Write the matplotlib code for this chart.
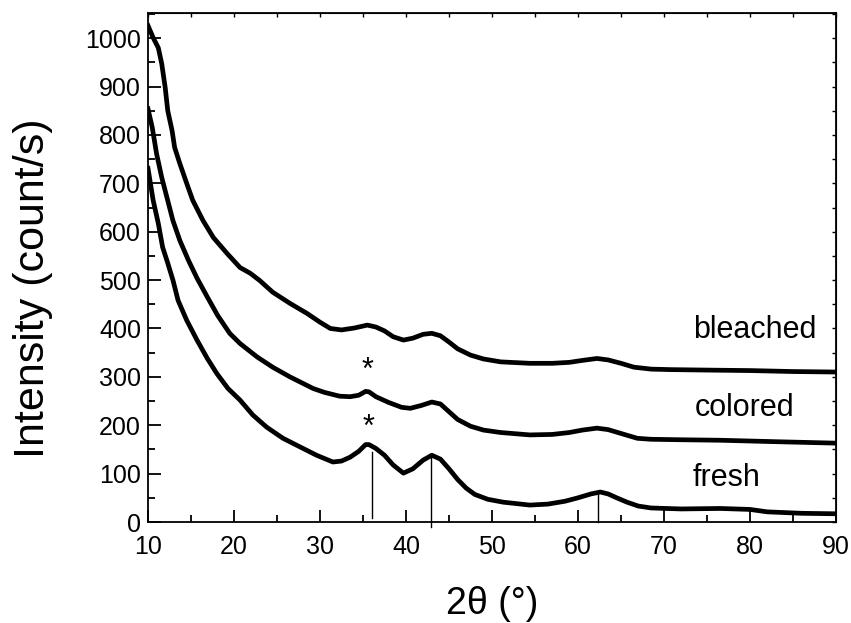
import matplotlib
matplotlib.use('Agg')
import matplotlib.pyplot as plt
from matplotlib.ticker import MultipleLocator

plt.rcParams['font.family'] = ['Liberation Sans', 'DejaVu Sans']

# XRD patterns (2theta in degrees, count/s)
bleached_x = [10, 10.6, 11.2, 11.6, 12, 12.3, 12.8, 13.1, 13.7, 14.5, 15.2, 16.4, 17.6, 19.2,
              20.7, 21.9, 23, 24.5, 26.5, 28.5, 30, 31.2, 32.5, 34, 35.5, 36.5, 37.5, 38.5,
              39.7, 40.8, 42, 43, 44, 45, 46, 47.5, 49, 51, 54.4, 57, 59, 60.5, 62.2, 63.5,
              65, 66.5, 68.5, 70.7, 75, 80, 85, 90]
bleached_y = [1026, 1001, 980, 947, 898, 850, 809, 774, 741, 700, 665, 623, 588, 555,
              526, 514, 499, 475, 452, 431, 413, 400, 397, 401, 407, 403, 395, 383,
              376, 380, 388, 390, 385, 372, 358, 345, 337, 331, 328, 328, 330, 334, 338, 335,
              328, 320, 316, 315, 314, 313, 311, 310]

colored_x = [10, 10.5, 11, 11.6, 12.2, 12.9, 13.7, 14.7, 15.7, 16.9, 18.1, 19.5, 20.7, 22.7,
             24.5, 26.5, 29.2, 30.5, 32.3, 33.5, 34.5, 35.3, 35.7, 36.5, 38, 39.5, 40.5,
             41.8, 43, 44, 45, 46, 47.5, 49, 51, 54.4, 57, 59, 60.5, 62.2, 63.5, 65, 66.9,
             68.5, 72, 76.5, 83, 90]
colored_y = [854, 815, 761, 712, 671, 623, 582, 541, 504, 465, 427, 390, 369, 341,
             320, 300, 276, 268, 260, 259, 262, 270, 269, 259, 247, 237, 235,
             241, 248, 244, 228, 212, 198, 190, 185, 180, 181, 185, 190, 194, 191, 183, 173,
             171, 170, 169, 166, 163]

fresh_x = [10, 10.6, 11.2, 11.7, 12.3, 12.9, 13.5, 14.5, 15.7, 16.9, 18, 19.3, 20.7, 22.2,
           23.8, 25.7, 27.7, 29.6, 31.5, 32.5, 33.5, 34.5, 35.3, 35.7, 36.5, 37.5, 38.5,
           39.7, 40.8, 42, 43, 44, 45, 46, 47, 48, 49.5, 51.3, 54.4, 56.5, 58.5, 60, 61.5,
           62.6, 63.5, 64.5, 65.7, 67, 68.5, 72, 76.5, 80, 82, 86, 90]
fresh_y = [731, 665, 617, 568, 535, 500, 458, 417, 376, 338, 307, 276, 252, 221,
           196, 173, 155, 138, 124, 126, 134, 146, 160, 160, 152, 138, 118,
           101, 110, 128, 138, 130, 110, 88, 70, 57, 47, 41, 35, 37, 43, 50, 58,
           62, 58, 50, 41, 33, 29, 27, 28, 26, 21, 18, 17]

# reference pattern sticks
stick_x = [36.1, 42.9, 62.3]
stick_top = [145, 134, 64]
stick_bottom = [8, -10, 0]

# sample labels and markers
labels = ['bleached', 'colored', 'fresh']
label_x = [80.6, 79.4, 77.3]
label_y = [396, 235, 91]
star_x = [35.5, 35.6]
star_y = [312, 194]

fig = plt.figure(figsize=(8.51, 6.23), dpi=100)
ax = fig.add_axes([0.1739, 0.1621, 0.8085, 0.817])

for xs, ys in [(bleached_x, bleached_y), (colored_x, colored_y), (fresh_x, fresh_y)]:
    ax.plot(xs, ys, color='black', linewidth=3.4, solid_joinstyle='round')

for sx, t, b in zip(stick_x, stick_top, stick_bottom):
    ax.plot([sx, sx], [b, t], color='black', linewidth=1.0, clip_on=False)

for lab, lx, ly in zip(labels, label_x, label_y):
    ax.text(lx, ly, lab, fontsize=22, ha='center', va='center')
for sx, sy in zip(star_x, star_y):
    ax.text(sx, sy, '*', fontsize=22, ha='center', va='center')

ax.set_xlim(10, 90)
ax.set_ylim(0, 1052)
ax.xaxis.set_major_locator(MultipleLocator(10))
ax.xaxis.set_minor_locator(MultipleLocator(5))
ax.yaxis.set_major_locator(MultipleLocator(100))
ax.yaxis.set_minor_locator(MultipleLocator(50))
ax.tick_params(which='major', direction='in', length=9, width=1.3, labelsize=18, pad=9)
ax.tick_params(which='minor', direction='in', length=5, width=1.3)
ax.tick_params(axis='y', which='major', pad=5)

# small ticks on top and right
top = ax.secondary_xaxis('top')
top.xaxis.set_major_locator(MultipleLocator(5))
top.tick_params(direction='in', length=3, width=1.0, labeltop=False)
right = ax.secondary_yaxis('right')
right.yaxis.set_major_locator(MultipleLocator(50))
right.tick_params(direction='in', length=3, width=1.0, labelright=False)

for sp in ax.spines.values():
    sp.set_linewidth(1.3)

ax.set_xlabel('2θ (°)', fontsize=27)
ax.set_ylabel('Intensity (count/s)', fontsize=31)
ax.xaxis.set_label_coords(0.5, -0.125)
ax.yaxis.set_label_coords(-0.138, 0.46)

plt.savefig('out.png', dpi=100)
